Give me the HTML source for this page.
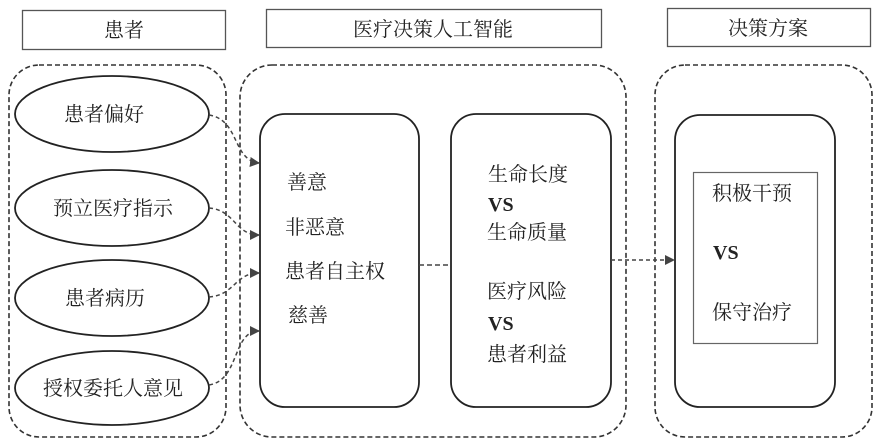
<!DOCTYPE html>
<html><head><meta charset="utf-8"><style>
body{margin:0;background:#fff}
svg text{font-family:"Liberation Serif","Noto Serif CJK SC","Noto Sans CJK SC",serif;fill:#222}
</style></head><body>
<svg width="876" height="441" viewBox="0 0 876 441" xmlns="http://www.w3.org/2000/svg">
<defs><marker id="a" markerWidth="10" markerHeight="10" refX="9" refY="5" orient="auto" markerUnits="userSpaceOnUse"><path d="M0,0 L10,5 L0,10 z" fill="#444"/></marker></defs>
<g fill="none" stroke="#555" stroke-width="1.3">
<rect x="22.5" y="10.5" width="203" height="39"/>
<rect x="266.5" y="9.5" width="335" height="38"/>
<rect x="667.5" y="8.5" width="203" height="38"/>
</g>
<g fill="none" stroke="#333" stroke-width="1.6" stroke-dasharray="5,3">
<rect x="9" y="65" width="217" height="372" rx="30"/>
<rect x="240" y="65" width="386" height="372" rx="32"/>
<rect x="655" y="65" width="217" height="372" rx="30"/>
</g>
<g fill="none" stroke="#222" stroke-width="1.8">
<ellipse cx="112" cy="114" rx="97" ry="38"/>
<ellipse cx="112" cy="208" rx="97" ry="38"/>
<ellipse cx="112" cy="298" rx="97" ry="38"/>
<ellipse cx="112" cy="388" rx="97" ry="37"/>
<rect x="260" y="114" width="159" height="293" rx="25"/>
<rect x="451" y="114" width="160" height="293" rx="25"/>
<rect x="675" y="115" width="160" height="292" rx="25"/>
</g>
<rect x="693.5" y="172.5" width="124" height="171" fill="none" stroke="#666" stroke-width="1.2"/>
<g fill="none" stroke="#444" stroke-width="1.5" stroke-dasharray="4,3" marker-end="url(#a)">
<path d="M209,115 C240,120 232,160 259,163"/>
<path d="M209,208 C235,210 235,235 259,235"/>
<path d="M209,297 C235,295 235,273 259,273"/>
<path d="M209,385 C240,380 232,331 259,331"/>
<path d="M611,260 L674,260"/>
</g>
<path d="M419,265 L451,265" stroke="#444" stroke-width="1.5" stroke-dasharray="5,3"/>
<g font-size="20">
<text x="124" y="37" text-anchor="middle">患者</text>
<text x="433" y="36" text-anchor="middle">医疗决策人工智能</text>
<text x="768" y="35" text-anchor="middle">决策方案</text>
<text x="104" y="121" text-anchor="middle">患者偏好</text>
<text x="113" y="215" text-anchor="middle">预立医疗指示</text>
<text x="105" y="305" text-anchor="middle">患者病历</text>
<text x="113" y="395" text-anchor="middle">授权委托人意见</text>
<text x="287" y="189">善意</text>
<text x="285" y="234">非恶意</text>
<text x="285" y="278">患者自主权</text>
<text x="288" y="322">慈善</text>
<text x="488" y="181">生命长度</text>
<text x="488" y="211" font-weight="bold">VS</text>
<text x="487" y="239">生命质量</text>
<text x="487" y="298">医疗风险</text>
<text x="488" y="330" font-weight="bold">VS</text>
<text x="487" y="361">患者利益</text>
<text x="712" y="200">积极干预</text>
<text x="713" y="259" font-weight="bold">VS</text>
<text x="712" y="319">保守治疗</text>
</g>
</svg>
</body></html>
